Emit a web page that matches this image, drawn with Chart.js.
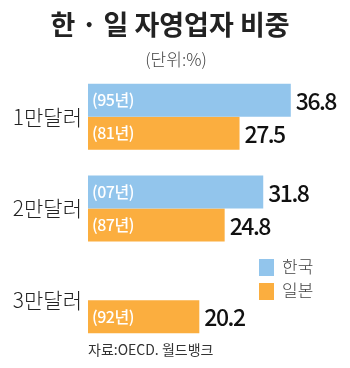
<!DOCTYPE html>
<html>
<head>
<meta charset="utf-8">
<script src="https://cdn.jsdelivr.net/npm/chart.js@4/dist/chart.umd.min.js"></script>
<style>
  html, body { margin: 0; padding: 0; background: #fff; }
  #wrap { width: 350px; height: 368px; position: relative; }
</style>
</head>
<body>
<div id="wrap"><canvas id="c" width="350" height="368"></canvas></div>
<script>
// data
const categories = ['1만달러', '2만달러', '3만달러'];
const korea = [36.8, 31.8, null];
const japan = [27.5, 24.8, 20.2];
const koreaYears = ['(95년)', '(07년)', ''];
const japanYears = ['(81년)', '(87년)', '(92년)'];
const seriesNames = ['한국', '일본'];

const BLUE = '#92C5EC';
const ORANGE = '#FBAE3F';
const KR = '"Noto Sans CJK KR", "Noto Sans", sans-serif';

// titles, legend, source text
const decorPlugin = {
  id: 'decor',
  afterDraw(chart) {
    const ctx = chart.ctx;
    ctx.save();
    ctx.textBaseline = 'middle';

    ctx.fillStyle = '#222';
    ctx.font = '700 27px ' + KR;
    ctx.textAlign = 'center';
    ctx.fillText('한 · 일 자영업자 비중', 170, 25);

    ctx.fillStyle = '#444';
    ctx.font = '300 17px ' + KR;
    ctx.fillText('(단위:%)', 176, 60);

    // legend
    const colors = [BLUE, ORANGE];
    ctx.textAlign = 'left';
    ctx.font = '300 17px ' + KR;
    seriesNames.forEach((name, i) => {
      const y = 259 + i * 24;
      ctx.fillStyle = colors[i];
      ctx.fillRect(259, y, 15, 17);
      ctx.fillStyle = '#444';
      ctx.fillText(name, 282, y + 8);
    });

    ctx.fillStyle = '#333';
    ctx.font = '400 14px ' + KR;
    ctx.fillText('자료:OECD. 월드뱅크', 88, 350);
    ctx.restore();
  }
};

// value labels at bar ends and year labels inside the bars
const barLabels = {
  id: 'barLabels',
  afterDatasetsDraw(chart) {
    const ctx = chart.ctx;
    const years = [koreaYears, japanYears];
    ctx.save();
    ctx.textBaseline = 'middle';
    chart.data.datasets.forEach((ds, di) => {
      const meta = chart.getDatasetMeta(di);
      meta.data.forEach((bar, i) => {
        if (ds.data[i] == null) return;
        ctx.textAlign = 'left';
        ctx.fillStyle = '#fff';
        ctx.font = '500 16px ' + KR;
        ctx.letterSpacing = '-0.5px';
        ctx.fillText(years[di][i], bar.base + 4, bar.y);

        ctx.fillStyle = '#111';
        ctx.font = '500 23px ' + KR;
        ctx.letterSpacing = '-1.5px';
        ctx.fillText(ds.data[i].toFixed(1), bar.x + 5, bar.y + 1);
        ctx.letterSpacing = '0px';
      });
    });
    ctx.restore();
  }
};

new Chart(document.getElementById('c'), {
  type: 'bar',
  data: {
    labels: categories,
    datasets: [
      { label: seriesNames[0], data: korea, backgroundColor: BLUE },
      { label: seriesNames[1], data: japan, backgroundColor: ORANGE }
    ]
  },
  options: {
    indexAxis: 'y',
    responsive: false,
    animation: false,
    layout: { padding: { top: 71, bottom: 22, left: 0, right: 3 } },
    datasets: { bar: { categoryPercentage: 0.72, barPercentage: 1.0 } },
    plugins: {
      legend: { display: false },
      tooltip: { enabled: false }
    },
    scales: {
      x: {
        min: 0, max: 47,
        display: false
      },
      y: {
        grid: { display: false, drawTicks: false },
        border: { display: false },
        afterFit(scale) { scale.width = 88; },
        ticks: {
          padding: 6,
          color: '#222',
          font: { family: KR, size: 21, weight: '300' }
        }
      }
    }
  },
  plugins: [decorPlugin, barLabels]
});
</script>
</body>
</html>
